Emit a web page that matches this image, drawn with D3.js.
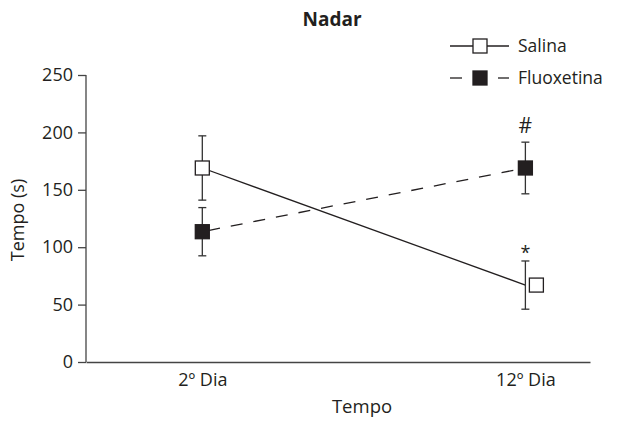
<!DOCTYPE html>
<html>
<head>
<meta charset="utf-8">
<script src="https://cdn.jsdelivr.net/npm/d3@7"></script>
<style>
  body { margin: 0; background: #fff; }
  svg { display: block; font-family: "Open Sans", sans-serif; }
</style>
</head>
<body>
<script>
const w = 627;
const h = 422;

// data
const days = [2, 12];
const dayLabels = ["2º Dia", "12º Dia"];
const salinaMean = [169, 67];
const salinaErr = [28, 21];
const fluoxMean = [113.5, 169];
const fluoxErr = [21, 22.5];
const yTicks = [0, 50, 100, 150, 200, 250];

const svg = d3.select("body").append("svg")
    .attr("width", w)
    .attr("height", h);

const x = d3.scaleLinear().domain([-1.6, 14]).range([86, 590]);
const y = d3.scaleLinear().domain([0, 250]).range([362, 75]);

const ink = "#231f20";

// axes
const yAxis = d3.axisLeft(y).tickValues(yTicks).tickSize(8).tickPadding(5);
const gy = svg.append("g").attr("transform", "translate(86,0)").call(yAxis);
gy.select(".domain").attr("d", "M0," + y(250) + "V" + y(0));

const xAxis = d3.axisBottom(x).tickValues(days).tickSize(0).tickPadding(11)
    .tickFormat((d, i) => dayLabels[i]);
const gx = svg.append("g").attr("transform", "translate(0,362)").call(xAxis);

svg.selectAll(".domain, .tick line").attr("stroke", "#444").attr("stroke-width", 1.3);
svg.selectAll(".tick text").attr("font-size", 18).attr("fill", ink)
    .attr("font-family", "Open Sans, sans-serif");

// titles
svg.append("text").attr("x", 332).attr("y", 26).attr("text-anchor", "middle")
    .attr("font-size", 19).attr("font-weight", "bold").attr("fill", ink).text("Nadar");
svg.append("text").attr("x", 362).attr("y", 413).attr("text-anchor", "middle")
    .attr("font-size", 18.5).attr("fill", ink).text("Tempo");
svg.append("text").attr("transform", "translate(24,220) rotate(-90)").attr("text-anchor", "middle")
    .attr("font-size", 18).attr("fill", ink).text("Tempo (s)");

// lines
const salina = days.map((d, i) => ({ day: d, mean: salinaMean[i], err: salinaErr[i] }));
const fluox = days.map((d, i) => ({ day: d, mean: fluoxMean[i], err: fluoxErr[i] }));
const line = d3.line().x(d => x(d.day)).y(d => y(d.mean));

svg.append("path").datum(fluox).attr("d", line).attr("fill", "none")
    .attr("stroke", ink).attr("stroke-width", 1.3).attr("stroke-dasharray", "12,11")
    .attr("stroke-dashoffset", -6);
svg.append("path").datum(salina).attr("d", line).attr("fill", "none")
    .attr("stroke", ink).attr("stroke-width", 1.3);

// error bars
function errorBars(data) {
    const g = svg.append("g").attr("stroke", "#333").attr("stroke-width", 1.3);
    data.forEach(d => {
        const cx = x(d.day);
        g.append("line").attr("x1", cx).attr("x2", cx)
            .attr("y1", y(d.mean + d.err)).attr("y2", y(d.mean - d.err));
        [d.mean + d.err, d.mean - d.err].forEach(v => {
            g.append("line").attr("x1", cx - 4).attr("x2", cx + 4)
                .attr("y1", y(v)).attr("y2", y(v));
        });
    });
}
errorBars(salina);
errorBars(fluox);

// markers
const sz = 14;
svg.selectAll(".sal").data(salina).enter().append("rect")
    .attr("x", (d, i) => x(d.day) - sz / 2 + (i === 1 ? 11 : 0))
    .attr("y", d => y(d.mean) - sz / 2)
    .attr("width", sz).attr("height", sz)
    .attr("fill", "#fff").attr("stroke", ink).attr("stroke-width", 1.3);
svg.selectAll(".flu").data(fluox).enter().append("rect")
    .attr("x", d => x(d.day) - sz / 2)
    .attr("y", d => y(d.mean) - sz / 2)
    .attr("width", sz).attr("height", sz)
    .attr("fill", ink).attr("stroke", ink).attr("stroke-width", 1.3);

// significance marks
svg.append("text").attr("x", x(12)).attr("y", y(fluoxMean[1] + fluoxErr[1]) - 9)
    .attr("text-anchor", "middle").attr("font-size", 21).attr("fill", ink).text("#");
svg.append("text").attr("x", x(12)).attr("y", y(salinaMean[1] + salinaErr[1]) - 2)
    .attr("text-anchor", "middle").attr("font-size", 18).attr("fill", ink).text("*");

// legend
const leg = svg.append("g");
const legItems = [
    { name: "Salina", fill: "#fff", dash: null, y: 46 },
    { name: "Fluoxetina", fill: ink, dash: "12,10", y: 78 }
];
legItems.forEach(it => {
    if (it.dash) {
        leg.append("line").attr("x1", 450).attr("x2", 462).attr("y1", it.y).attr("y2", it.y)
            .attr("stroke", ink).attr("stroke-width", 1.3);
        leg.append("line").attr("x1", 498).attr("x2", 509).attr("y1", it.y).attr("y2", it.y)
            .attr("stroke", ink).attr("stroke-width", 1.3);
    } else {
        leg.append("line").attr("x1", 450).attr("x2", 509).attr("y1", it.y).attr("y2", it.y)
            .attr("stroke", ink).attr("stroke-width", 1.3);
    }
    leg.append("rect").attr("x", 480 - sz / 2).attr("y", it.y - sz / 2)
        .attr("width", sz).attr("height", sz)
        .attr("fill", it.fill).attr("stroke", ink).attr("stroke-width", 1.3);
    leg.append("text").attr("x", 518).attr("y", it.y + 6).attr("font-size", 17.5)
        .attr("fill", ink).text(it.name);
});
</script>
</body>
</html>
